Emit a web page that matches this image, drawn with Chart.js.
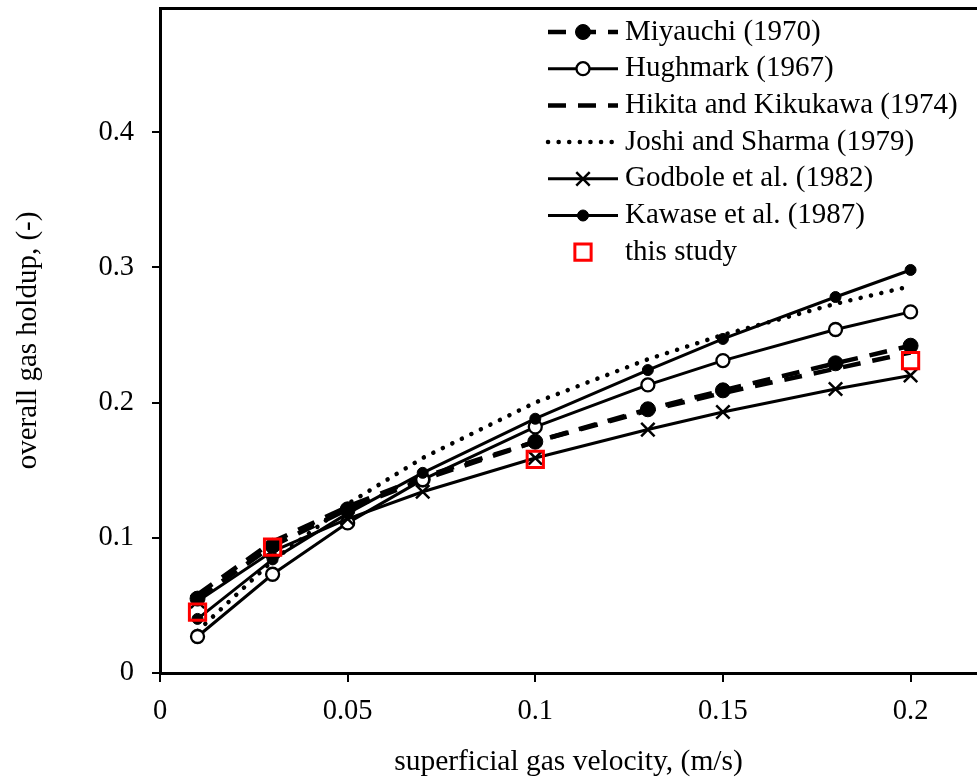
<!DOCTYPE html>
<html>
<head>
<meta charset="utf-8">
<script src="https://cdn.jsdelivr.net/npm/chart.js@4/dist/chart.umd.min.js"></script>
<style>
  body { margin: 0; background: #fff; }
  canvas { display: block; }
</style>
</head>
<body>
<canvas id="holdupChart" width="977" height="781"></canvas>
<script>
// superficial gas velocity (m/s) and overall gas holdup (-)
const velocity = [0.01, 0.03, 0.05, 0.07, 0.1, 0.13, 0.15, 0.18, 0.2];
const miyauchi = [0.055, 0.094, 0.121, 0.143, 0.171, 0.195, 0.209, 0.229, 0.242];
const hughmark = [0.027, 0.073, 0.111, 0.143, 0.182, 0.213, 0.231, 0.254, 0.267];
const hikita = [0.058, 0.097, 0.123, 0.145, 0.171, 0.194, 0.207, 0.225, 0.237];
const joshi = [0.031, 0.083, 0.125, 0.159, 0.200, 0.232, 0.250, 0.273, 0.286];
const godbole = [0.053, 0.090, 0.114, 0.134, 0.159, 0.180, 0.193, 0.210, 0.220];
const kawase = [0.040, 0.084, 0.118, 0.148, 0.188, 0.224, 0.247, 0.278, 0.298];
const studyVelocity = [0.01, 0.03, 0.1, 0.2];
const study = [0.045, 0.093, 0.158, 0.231];

const xTicks = [0, 0.05, 0.1, 0.15, 0.2];
const yTicks = [0, 0.1, 0.2, 0.3, 0.4];

const FONT = '"Liberation Serif", "Times New Roman", serif';
const toPoints = (xs, ys) => xs.map((x, i) => ({ x, y: ys[i] }));

const base = { fill: false, tension: 0, borderColor: '#000', pointBorderColor: '#000', pointBackgroundColor: '#000' };

const datasets = [
    { ...base, label: 'Miyauchi (1970)', data: toPoints(velocity, miyauchi), borderWidth: 4.5, borderDash: [18, 12],
      pointStyle: 'circle', pointRadius: 7.5, pointBorderWidth: 1, order: 3 },
    { ...base, label: 'Hughmark (1967)', data: toPoints(velocity, hughmark), borderWidth: 3,
      pointStyle: 'circle', pointRadius: 6.5, pointBorderWidth: 2.3, pointBackgroundColor: '#fff', order: 2 },
    { ...base, label: 'Hikita and Kikukawa (1974)', data: toPoints(velocity, hikita), borderWidth: 4.5, borderDash: [18, 12],
      pointRadius: 0, order: 4 },
    { ...base, label: 'Joshi and Sharma (1979)', data: toPoints(velocity, joshi), borderWidth: 4.5, borderDash: [0.1, 10.5],
      borderCapStyle: 'round', pointRadius: 0, order: 5 },
    { ...base, label: 'Godbole et al. (1982)', data: toPoints(velocity, godbole), borderWidth: 3,
      pointStyle: 'crossRot', pointRadius: 9.5, pointBorderWidth: 2.5, order: 1 },
    { ...base, label: 'Kawase et al. (1987)', data: toPoints(velocity, kawase), borderWidth: 3,
      pointStyle: 'circle', pointRadius: 5.5, pointBorderWidth: 1, order: 1 },
    { label: 'this study', data: toPoints(studyVelocity, study), showLine: false,
      pointStyle: 'rect', pointRadius: 11.5, pointBorderWidth: 3, pointBorderColor: '#ff0000',
      pointBackgroundColor: 'rgba(0,0,0,0)', order: 0 }
];

// legend drawn inside the plot, top right, like the original
const insideLegend = {
    id: 'insideLegend',
    afterDraw(chart) {
        const ctx = chart.ctx;
        const x0 = 548, x1 = 618, tx = 625, y0 = 32, step = 36.7;
        chart.data.datasets.forEach((ds, i) => {
            const y = y0 + i * step;
            ctx.save();
            if (ds.showLine !== false) {
                ctx.strokeStyle = '#000';
                ctx.lineWidth = ds.borderWidth;
                ctx.lineCap = ds.borderCapStyle || 'butt';
                ctx.setLineDash(ds.borderDash || []);
                ctx.beginPath(); ctx.moveTo(x0, y); ctx.lineTo(x1, y); ctx.stroke();
            }
            ctx.setLineDash([]);
            if (ds.pointRadius > 0) {
                ctx.fillStyle = ds.pointBackgroundColor;
                ctx.strokeStyle = ds.pointBorderColor;
                ctx.lineWidth = ds.pointBorderWidth;
                Chart.helpers.drawPoint(ctx, { pointStyle: ds.pointStyle, radius: ds.pointRadius, rotation: 0, borderWidth: ds.pointBorderWidth }, (x0 + x1) / 2, y);
            }
            ctx.fillStyle = '#000';
            ctx.font = '29px ' + FONT;
            ctx.textAlign = 'left'; ctx.textBaseline = 'middle';
            ctx.fillText(ds.label, tx, y);
            ctx.restore();
        });
    }
};

const keepTicks = list => scale => { scale.ticks = list.map(v => ({ value: v })); };
const tickLabel = v => String(Math.round(v * 100) / 100);
// fixed axis box sizes, no extra label padding, so the plot area sits where the original's does
const fixSize = (w, h) => s => {
    if (w !== null) s.width = w;
    if (h !== null) s.height = h;
    s.paddingTop = s.paddingBottom = s.paddingLeft = s.paddingRight = 0;
};

new Chart(document.getElementById('holdupChart'), {
    type: 'scatter',
    data: { datasets },
    options: {
        responsive: false, animation: false, showLine: true,
        layout: { padding: 0, autoPadding: false },
        plugins: { legend: { display: false }, tooltip: { enabled: false } },
        scales: {
            x: {
                type: 'linear', position: 'bottom', min: 0, max: 0.2177,
                afterBuildTicks: keepTicks(xTicks),
                afterFit: fixSize(null, 108),
                ticks: { color: '#000', font: { family: FONT, size: 28.5 }, padding: 12, callback: tickLabel, maxRotation: 0 },
                grid: { display: true, drawOnChartArea: false, drawTicks: true, tickLength: 9, color: '#000', lineWidth: 2 },
                border: { display: true, color: '#000', width: 3 },
                title: { display: true, text: 'superficial gas velocity, (m/s)', color: '#000',
                         font: { family: FONT, size: 29.5, lineHeight: 1.2 }, padding: { top: 4, bottom: 1 } }
            },
            xTop: {
                type: 'linear', position: 'top', min: 0, max: 0.2177,
                afterFit: fixSize(null, 8),
                ticks: { display: false },
                grid: { display: false },
                border: { display: true, color: '#000', width: 3 }
            },
            y: {
                type: 'linear', position: 'left', min: 0, max: 0.4917,
                afterBuildTicks: keepTicks(yTicks),
                afterFit: fixSize(160, null),
                ticks: { color: '#000', font: { family: FONT, size: 28.5 }, padding: 18, callback: tickLabel },
                grid: { display: true, drawOnChartArea: false, drawTicks: true, tickLength: 8, color: '#000', lineWidth: 2 },
                border: { display: true, color: '#000', width: 3 },
                title: { display: true, text: 'overall gas holdup, (-)', color: '#000',
                         font: { family: FONT, size: 29, lineHeight: 1.2 }, padding: { top: 11, bottom: 4 } }
            }
        }
    },
    plugins: [insideLegend]
});
</script>
</body>
</html>
